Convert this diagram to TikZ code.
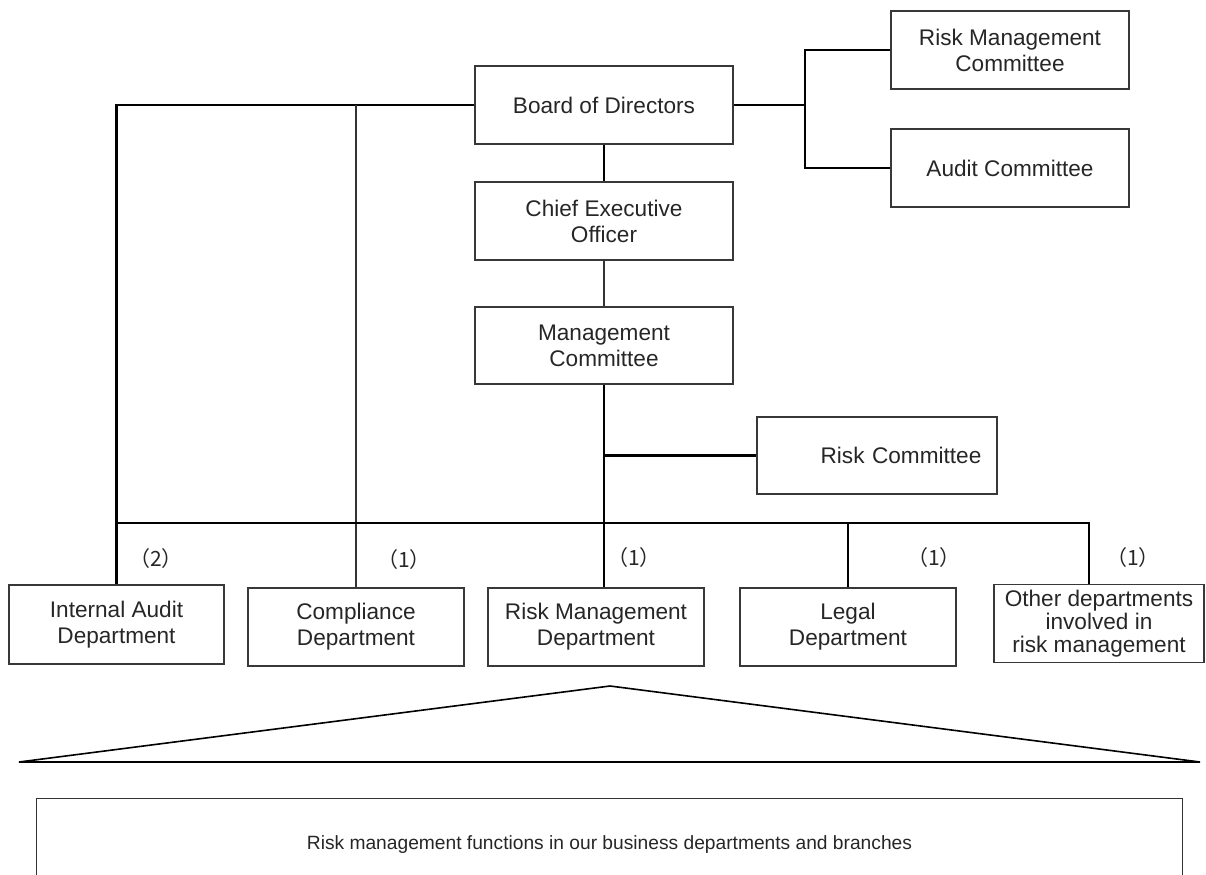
\documentclass[tikz,border=0pt]{standalone}
\usepackage{fontspec}
\setmainfont{Liberation Sans}
\newfontfamily\cjk{Noto Sans CJK SC}
\begin{document}
\begin{tikzpicture}[x=0.5pt,y=-0.5pt,
  box/.style={draw=black!78,line width=0.8pt,align=center,text=black!85,
    font=\fontsize{11.3}{13}\selectfont,inner sep=0pt},
  unitbox/.style={box,minimum width=129pt,minimum height=39pt},
  combox/.style={box,minimum width=119pt,minimum height=39pt},
  deptbox/.style={box,minimum width=108pt,minimum height=39pt},
  conn/.style={line width=1.1pt,black},
  thin conn/.style={line width=0.7pt,black!80},
  count/.style={font=\cjk\fontsize{10.5}{12}\selectfont,text=black!85,inner sep=0pt}]
\useasboundingbox (0,0) rectangle (1206,874);

% governing bodies
\node[unitbox] (board) at (604,105) {Board of Directors};
\node[unitbox] (ceo)   at (604,221) {Chief Executive\\Officer};
\node[unitbox,minimum height=38.5pt] (mgmt) at (604,345.5) {Management\\Committee};
\node[combox]  (rmc)   at (1010,50)  {Risk Management\\Committee};
\node[combox]  (audit) at (1010,168) {Audit Committee};
\node[box,minimum width=120pt,minimum height=38.5pt,text width=120pt] (rc) at (877,455.5) {\hspace*{24pt}Risk Committee};

% departments
\node[deptbox,minimum width=107.5pt,minimum height=39.5pt] (iad) at (116.5,624.5) {Internal Audit\\Department};
\node[deptbox] (comp)   at (356,627) {Compliance\\Department};
\node[deptbox] (rmd)    at (596,627) {Risk Management\\Department};
\node[deptbox] (legal)  at (848,627) {Legal\\Department};
\node[deptbox,minimum width=105pt,font=\fontsize{11.3}{11.5}\selectfont] (others) at (1099,623.5) {Other departments\\involved in\\risk management};

% business line functions
\node[align=center,text=black!85,font=\fontsize{9.6}{11}\selectfont,
      minimum width=572.5pt,minimum height=46pt,inner sep=0pt] (funcs) at (609.5,845)
      {Risk management functions in our business departments and branches};
\draw[line width=0.6pt,black!80] (funcs.south west) -- (funcs.north west)
      -- (funcs.north east) -- (funcs.south east);
\draw[line width=0.8pt,black] (19,762) -- (610,686) -- (1200,762) -- cycle;

% reporting lines
\coordinate (bus) at (604,523);
\coordinate (br)  at (805,105);
\coordinate (oj)  at ([xshift=-5pt]others.north);

\draw[conn] (board) -- (ceo);
\draw[thin conn] (ceo) -- (mgmt);
\draw[conn] (board.east) -- (br);
\draw[conn] (rmc.west) -| (br) |- (audit.west);
\draw[conn] (board.west) -| (iad.north);
\draw[thin conn] (board.west -| comp.north) -- (comp.north);
\draw[conn] (mgmt.south) -- (mgmt.south |- rmd.north);
\draw[conn] (mgmt.south |- rc.west) -- (rc.west);
\draw[conn] (iad.north |- bus) -- (oj |- bus) -- (oj);
\draw[conn] (legal.north |- bus) -- (legal.north);

% numbers of reporting lines
\node[count] (n1) at (156,559) {（2）};
\node[count] (n2) at (404,560) {（1）};
\node[count] (n3) at (634,558) {（1）};
\node[count] (n4) at (934,558) {（1）};
\node[count] (n5) at (1133,558) {（1）};
\end{tikzpicture}
\end{document}
